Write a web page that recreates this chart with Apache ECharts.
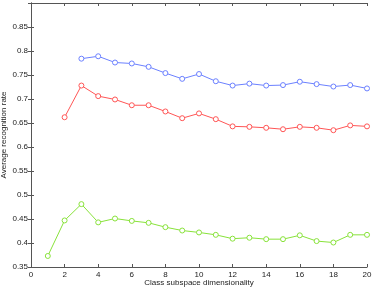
<!DOCTYPE html>
<html><head><meta charset="utf-8">
<script src="https://cdn.jsdelivr.net/npm/echarts@6/dist/echarts.min.js"></script>
<style>html,body{margin:0;padding:0;background:#fff}#c{width:374px;height:289px}</style>
</head><body><div id="c"></div>
<script>
var blueX = [3,4,5,6,7,8,9,10,11,12,13,14,15,16,17,18,19,20];
var blueY = [0.784,0.789,0.776,0.774,0.767,0.754,0.742,0.752,0.737,0.728,0.732,0.728,0.729,0.736,0.731,0.726,0.729,0.722];
var redX = [2,3,4,5,6,7,8,9,10,11,12,13,14,15,16,17,18,19,20];
var redY = [0.662,0.728,0.706,0.699,0.687,0.687,0.674,0.660,0.670,0.658,0.643,0.642,0.640,0.637,0.642,0.640,0.635,0.645,0.643];
var greenX = [1,2,3,4,5,6,7,8,9,10,11,12,13,14,15,16,17,18,19,20];
var greenY = [0.373,0.447,0.481,0.443,0.451,0.446,0.442,0.433,0.426,0.422,0.417,0.409,0.411,0.408,0.408,0.416,0.404,0.401,0.417,0.417];
var xTitle = 'Class subspace dimensionality';
var yTitle = 'Average recognition rate';

function pairs(xs, ys){ return xs.map(function(x,i){return [x, ys[i]];}); }
var font = 'Liberation Sans, Arial, sans-serif';
var axisLine = {show:true, lineStyle:{color:'#555', width:1}};
var tick = {show:true, inside:true, length:3, lineStyle:{color:'#555'}};
var lbl = {color:'#222', fontSize:8, fontFamily:font};
function ser(data, color){
  return {type:'line', data:data, symbol:'circle', symbolSize:5, showSymbol:true,
    itemStyle:{color:'#fff', borderColor:color, borderWidth:1},
    lineStyle:{color:color, width:1}, emphasis:{disabled:true}, animation:false};
}
var chart = echarts.init(document.getElementById('c'));
chart.setOption({
  animation:false,
  grid:{left:31, right:7, top:3, bottom:22, containLabel:false, outerBoundsMode:'none'},
  xAxis:[
    {type:'value', min:0, max:20, interval:2, position:'bottom', axisLine:axisLine, axisTick:tick,
     axisLabel:Object.assign({margin:4}, lbl), splitLine:{show:false},
     name:xTitle, nameLocation:'middle', nameGap:12, nameMoveOverlap:false, nameTextStyle:{fontSize:8, color:'#222', fontFamily:font}},
    {type:'value', min:0, max:20, interval:2, position:'top', axisLine:axisLine, axisTick:tick,
     axisLabel:{show:false}, splitLine:{show:false}}
  ],
  yAxis:[
    {type:'value', min:0.35, max:0.9, interval:0.05, position:'left', axisLine:axisLine, axisTick:tick,
     axisLabel:Object.assign({margin:3, formatter:function(v){return v>=0.899?'':String(+v.toFixed(2));}}, lbl), splitLine:{show:false},
     name:yTitle, nameLocation:'middle', nameGap:23, nameMoveOverlap:false, nameTextStyle:{fontSize:8, color:'#222', fontFamily:font}},
    {type:'value', min:0.35, max:0.9, interval:0.05, position:'right', axisLine:axisLine, axisTick:tick,
     axisLabel:{show:false}, splitLine:{show:false}}
  ],
  series:[
    ser(pairs(blueX, blueY), '#6b80ff'),
    ser(pairs(redX, redY), '#ff5555'),
    ser(pairs(greenX, greenY), '#88e23a')
  ]
});
</script></body></html>
